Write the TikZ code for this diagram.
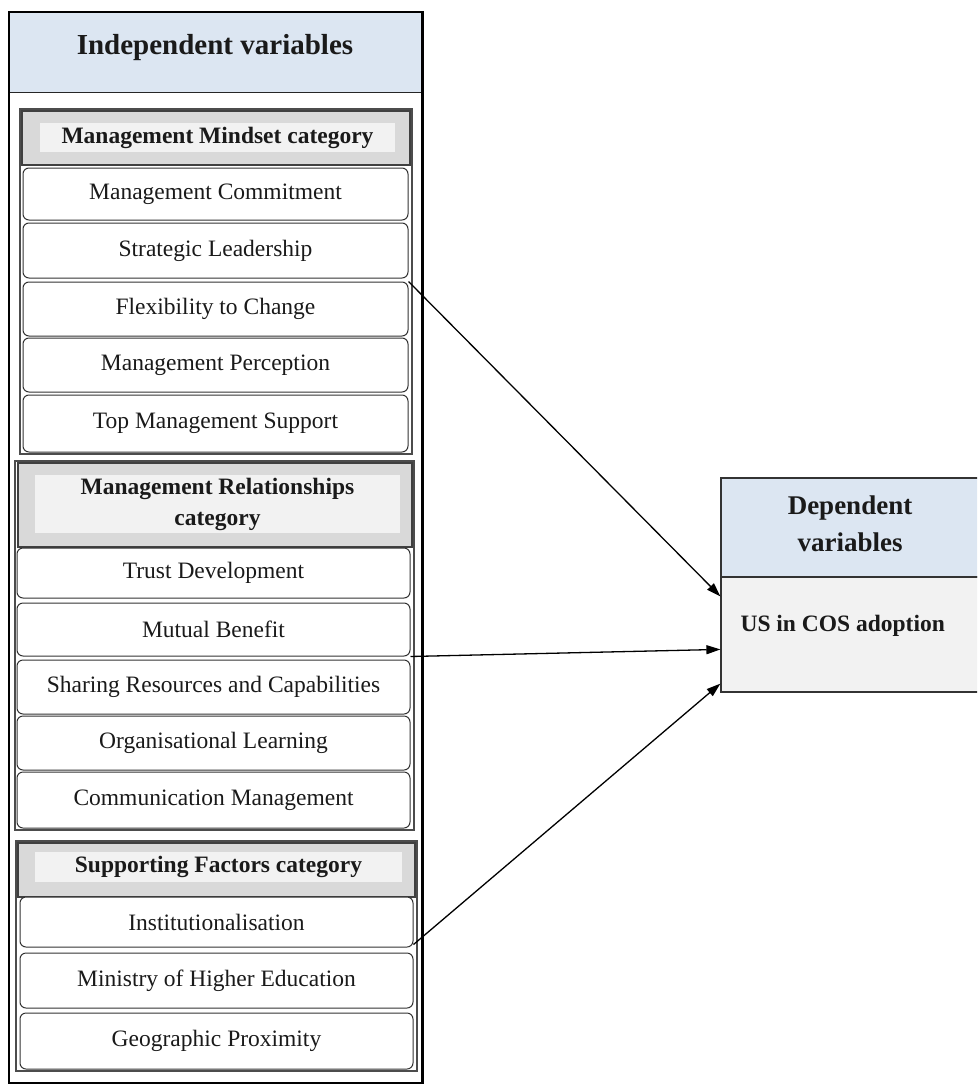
\documentclass[tikz,border=0pt]{standalone}
\usepackage{fontspec}
\setmainfont{Liberation Serif}
\usetikzlibrary{arrows.meta,fit}
\definecolor{hdrblue}{HTML}{DCE6F2}
\definecolor{catgray}{HTML}{D9D9D9}
\definecolor{catlight}{HTML}{F2F2F2}
\definecolor{txt}{HTML}{1A1A1A}
\tikzset{
  itembox/.style={draw=black!80, line width=1pt, rounded corners=6pt, fill=white, inner sep=0pt,
    font=\fontsize{23.5}{26}\selectfont, text=txt},
  cathead/.style={draw=black!75, line width=1.2pt, fill=catgray, inner sep=0pt},
  catinner/.style={draw=none, fill=catlight, inner sep=0pt, align=center,
    font=\fontsize{23.5}{31}\selectfont\bfseries, text=txt},
  groupbox/.style={draw=black!70, line width=1.4pt, inner sep=1.5pt},
  arr/.style={draw=black, line width=1.3pt, -{Triangle[length=14pt,width=9pt]}},
}
\begin{document}
\begin{tikzpicture}[x=1pt,y=-1pt]
\clip (0,0) rectangle (977,1084);
\fill[white] (0,0) rectangle (977,1084);
% outer independent box
\node[draw=none, fill=hdrblue, minimum width=412pt, minimum height=80pt, inner sep=0pt] (ivh) at (215,52) {};
\node[font=\fontsize{29}{32}\selectfont\bfseries, text=txt] (ivt) at (215,48) {Independent variables};
\draw[black!85, line width=1.2pt] (ivh.south west) -- (ivh.south east);
\draw[black, line width=1.6pt] (421,12) -- (9,12) -- (9,1083) -- (421,1083);
\draw[black, line width=3pt] (422,11) -- (422,1084);
% Management Mindset
\node[cathead, minimum width=388pt, minimum height=54pt] (mmh) at (216,138) {};
\node[catinner, minimum width=355pt, minimum height=29pt] (mmt) at (217.5,137.5) {Management Mindset category};
\node[itembox, minimum width=385pt, minimum height=52pt] (mc) at (215.5,194) {Management Commitment};
\node[itembox, minimum width=385pt, minimum height=55pt] (sl) at (215.5,250.5) {Strategic Leadership};
\node[itembox, minimum width=385pt, minimum height=54pt] (fc) at (215.5,309) {Flexibility to Change};
\node[itembox, minimum width=385pt, minimum height=54pt] (mp) at (215.5,365) {Management Perception};
\node[itembox, minimum width=385pt, minimum height=57pt] (tms) at (215.5,423.5) {Top Management Support};
\node[groupbox, fit=(mmh)(mc)(tms)] (mmg) {};
% Management Relationships
\node[cathead, minimum width=394pt, minimum height=84pt] (mrh) at (215,505) {};
\node[catinner, minimum width=365pt, minimum height=58pt] (mrt) at (217.5,504) {Management Relationships\\category};
\node[itembox, minimum width=393pt, minimum height=50pt] (td) at (213.5,573) {Trust Development};
\node[itembox, minimum width=393pt, minimum height=53pt] (mb) at (213.5,629.5) {Mutual Benefit};
\node[itembox, minimum width=393pt, minimum height=54pt] (src) at (213.5,687) {Sharing Resources and Capabilities};
\node[itembox, minimum width=393pt, minimum height=54pt] (ol) at (213.5,743) {Organisational Learning};
\node[itembox, minimum width=393pt, minimum height=56pt] (cm) at (213.5,800) {Communication Management};
\node[groupbox, fit=(mrh)(td)(cm)] (mrg) {};
% Supporting Factors
\node[cathead, minimum width=397pt, minimum height=54pt] (sfh) at (216.5,870) {};
\node[catinner, minimum width=367pt, minimum height=30pt] (sft) at (218.5,867) {Supporting Factors category};
\node[itembox, minimum width=393pt, minimum height=50pt] (inst) at (216.5,922) {Institutionalisation};
\node[itembox, minimum width=393pt, minimum height=55pt] (mohe) at (216.5,980.5) {Ministry of Higher Education};
\node[itembox, minimum width=393pt, minimum height=56pt] (gp) at (216.5,1041) {Geographic Proximity};
\node[groupbox, fit=(sfh)(inst)(gp)] (sfg) {};
% Dependent
\node[draw=black!80, line width=1.2pt, fill=hdrblue, minimum width=261pt, minimum height=99pt, inner sep=0pt] (dvh) at (851.5,527.5) {};
\node[align=center, font=\fontsize{27}{37}\selectfont\bfseries, text=txt] (dvt) at (850,524) {Dependent\\variables};
\node[draw=black!80, line width=1.2pt, fill=catlight, minimum width=261pt, minimum height=115pt, inner sep=0pt] (dvb) at (851.5,634.5) {};
\node[anchor=west, font=\fontsize{23.5}{26}\selectfont\bfseries, text=txt] (ust) at (737,626) {US in COS adoption};
% arrows
\draw[arr] (fc.north east) -- ([yshift=-20pt]dvb.north west);
\draw[arr] ([yshift=3pt]src.north east) -- ([yshift=-73pt]dvb.north west);
\draw[arr] ([yshift=3pt]inst.south east) -- ([yshift=9pt]dvb.south west);
\end{tikzpicture}
\end{document}
